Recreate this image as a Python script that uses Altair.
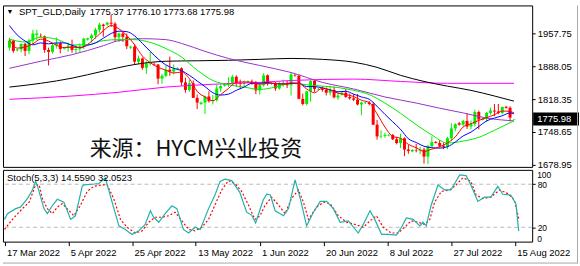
import altair as alt
import pandas as pd

# ---------------- data ----------------
bar_idx = list(range(130))
opens = [1928, 1943, 1922, 1924, 1936, 1921, 1943, 1955, 1953, 1952,
         1923, 1919, 1933, 1937, 1926, 1928, 1932, 1923, 1925, 1931,
         1945, 1948, 1954, 1966, 1977, 1977, 1981, 1979, 1950, 1958,
         1951, 1928, 1930, 1898, 1905, 1885, 1894, 1893, 1892, 1862,
         1868, 1881, 1877, 1882, 1884, 1854, 1838, 1852, 1821, 1808,
         1811, 1824, 1814, 1816, 1841, 1847, 1850, 1853, 1866, 1853,
         1851, 1854, 1856, 1855, 1837, 1848, 1869, 1851, 1852, 1841,
         1852, 1853, 1848, 1869, 1868, 1819, 1808, 1835, 1857, 1839,
         1840, 1838, 1832, 1838, 1822, 1828, 1832, 1823, 1820, 1817,
         1807, 1810, 1811, 1808, 1764, 1739, 1740, 1741, 1742, 1733,
         1725, 1735, 1711, 1707, 1710, 1709, 1711, 1696, 1718, 1727,
         1725, 1719, 1717, 1735, 1756, 1767, 1764, 1772, 1760, 1765,
         1791, 1774, 1777, 1789, 1794, 1792, 1789, 1802, 1800, 1775.37]
highs = [1949, 1945, 1926, 1937, 1938, 1947, 1966, 1966, 1958, 1954,
         1928, 1939, 1950, 1941, 1930, 1939, 1945, 1933, 1937, 1949,
         1949, 1958, 1970, 1981, 1979, 1983, 1998, 1982, 1960, 1962,
         1958, 1932, 1936, 1911, 1907, 1899, 1920, 1896, 1893, 1872,
         1889, 1909, 1892, 1886, 1886, 1864, 1859, 1858, 1828, 1813,
         1826, 1835, 1827, 1849, 1849, 1852, 1865, 1870, 1869, 1860,
         1858, 1858, 1860, 1857, 1854, 1874, 1871, 1854, 1855, 1855,
         1860, 1857, 1875, 1872, 1870, 1830, 1836, 1858, 1859, 1842,
         1846, 1843, 1847, 1845, 1833, 1834, 1840, 1830, 1829, 1829,
         1813, 1813, 1814, 1812, 1774, 1752, 1747, 1744, 1744, 1738,
         1745, 1737, 1721, 1712, 1723, 1717, 1715, 1721, 1739, 1729,
         1731, 1726, 1738, 1767, 1767, 1770, 1774, 1788, 1773, 1796,
         1794, 1778, 1791, 1800, 1808, 1808, 1802, 1804, 1803, 1776.10]
lows = [1922, 1917, 1920, 1918, 1910, 1914, 1935, 1944, 1950, 1917,
        1890, 1915, 1926, 1916, 1924, 1919, 1917, 1915, 1919, 1925,
        1943, 1939, 1947, 1960, 1951, 1975, 1972, 1941, 1940, 1940,
        1925, 1925, 1891, 1893, 1881, 1872, 1890, 1890, 1850, 1851,
        1865, 1868, 1871, 1880, 1847, 1832, 1834, 1821, 1797, 1806,
        1787, 1811, 1807, 1813, 1834, 1845, 1844, 1850, 1845, 1840,
        1845, 1853, 1849, 1829, 1828, 1845, 1847, 1849, 1836, 1838,
        1845, 1842, 1826, 1866, 1818, 1805, 1805, 1813, 1834, 1837,
        1834, 1826, 1826, 1820, 1817, 1826, 1821, 1817, 1814, 1805,
        1784, 1808, 1805, 1763, 1732, 1735, 1736, 1739, 1731, 1722,
        1714, 1697, 1702, 1705, 1705, 1701, 1681, 1680, 1716, 1724,
        1715, 1712, 1712, 1729, 1750, 1762, 1760, 1755, 1754, 1760,
        1754, 1773, 1770, 1785, 1782, 1786, 1786, 1798, 1771, 1773.68]
closes = [1943, 1921, 1924, 1936, 1921, 1943, 1958, 1958, 1952, 1923,
          1919, 1933, 1937, 1925, 1928, 1932, 1923, 1925, 1931, 1947,
          1948, 1954, 1966, 1977, 1974, 1981, 1979, 1950, 1958, 1951,
          1931, 1930, 1898, 1905, 1885, 1894, 1896, 1892, 1862, 1868,
          1881, 1877, 1883, 1884, 1854, 1838, 1852, 1821, 1811, 1811,
          1824, 1814, 1816, 1841, 1846, 1850, 1853, 1866, 1853, 1851,
          1853, 1856, 1855, 1837, 1848, 1869, 1851, 1852, 1841, 1852,
          1853, 1848, 1871, 1868, 1819, 1808, 1835, 1857, 1840, 1840,
          1838, 1832, 1838, 1822, 1826, 1832, 1823, 1820, 1817, 1807,
          1811, 1811, 1808, 1764, 1739, 1740, 1742, 1742, 1733, 1725,
          1735, 1711, 1708, 1710, 1709, 1711, 1696, 1718, 1727, 1725,
          1719, 1717, 1735, 1756, 1765, 1764, 1772, 1760, 1765, 1791,
          1775, 1777, 1789, 1794, 1792, 1789, 1802, 1800, 1779, 1775.98]

# moving averages
ma_fast_idx = list(range(0, 130, 2)) + [129]
ma_red = [1945, 1927, 1929, 1936, 1946, 1942, 1933, 1928, 1929, 1928,
          1935, 1949, 1964, 1975, 1968, 1954, 1934, 1910, 1896, 1886,
          1880, 1874, 1876, 1862, 1835, 1823, 1815, 1828, 1841, 1854,
          1855, 1854, 1850, 1852, 1852, 1850, 1853, 1852, 1840, 1832,
          1842, 1838, 1831, 1828, 1824, 1816, 1811, 1787, 1759, 1739,
          1735, 1722, 1715, 1707, 1712, 1717, 1725, 1738, 1759, 1766,
          1773, 1779, 1785, 1793, 1792, 1789]
ma_blue = [1975, 1955, 1942, 1934, 1938, 1936, 1938, 1938, 1933, 1928,
           1933, 1938, 1948, 1958, 1963, 1962, 1953, 1937, 1920, 1904,
           1891, 1884, 1879, 1869, 1857, 1845, 1832, 1827, 1829, 1837,
           1844, 1852, 1852, 1854, 1851, 1851, 1852, 1852, 1845, 1845,
           1842, 1838, 1834, 1835, 1829, 1823, 1818, 1803, 1786, 1770,
           1754, 1734, 1726, 1718, 1715, 1714, 1717, 1727, 1740, 1748,
           1760, 1772, 1778, 1783, 1789, 1787]
ma_green_idx = list(range(0, 130, 4)) + [129]
ma_green = [1946, 1940, 1950, 1946, 1934, 1934, 1943, 1945, 1945, 1939,
            1926, 1908, 1880, 1858, 1849, 1844, 1839, 1844, 1852, 1849,
            1846, 1843, 1837, 1828, 1810, 1788, 1764, 1742, 1725, 1729,
            1737, 1752, 1768, 1772]
ma_purple_idx = [0, 8, 16, 24, 28, 34, 40, 44, 50, 56, 64, 72, 80, 88, 96,
                 104, 110, 116, 122, 129]
ma_purple = [1884, 1899, 1913, 1932, 1943, 1947, 1945, 1937, 1920, 1905,
             1890, 1875, 1854, 1840, 1823, 1810, 1799, 1789, 1778, 1772]
ma_black_idx = [0, 8, 16, 24, 32, 40, 48, 56, 64, 72, 80, 88, 94, 100, 106,
                112, 118, 124, 129]
ma_black = [1844, 1852, 1863, 1878, 1892, 1899, 1900, 1901, 1903, 1905,
            1903, 1897, 1886, 1869, 1856, 1846, 1837, 1825, 1814]
ma_mag_idx = [0, 16, 28, 40, 52, 64, 72, 88, 100, 112, 129]
ma_mag = [1818, 1825, 1833, 1844, 1850, 1854, 1858, 1861, 1856, 1852, 1852]

# stochastic (5,3,3)
k_idx = [0, 0.75, 2.8, 4, 5.75, 7, 7.8, 8.2, 9.9, 10.75, 12, 13.25, 14.9, 16.6,
         17.8, 19.5, 19.9, 22, 23.7, 25.3, 27, 28.7, 30.3, 32, 33.7, 35.3, 36.6,
         37.4, 38.7, 40.3, 42, 43.25, 44.9, 46.2, 47.8, 49.1, 51.2, 52.8, 54.1,
         55.3, 57, 59, 60.75, 62, 63, 64.9, 65.8, 66.7, 67.9, 70, 71.25, 72.9,
         74.2, 75.8, 77.5, 79.2, 80.8, 82.5, 84.2, 86.25, 88.75, 90, 91.7, 92.9,
         94.6, 96.25, 98.3, 99.6, 100.8, 102.5, 104.2, 105, 105.8, 107, 108.75,
         110.4, 112, 114.2, 115.8, 117, 118.75, 120.4, 122, 123.75, 125, 127,
         128.3, 129]
k_val = [31, 39, 46, 48, 60, 72, 84, 79, 46, 39, 50, 59, 55, 31, 36, 77, 79,
         80, 81, 89, 55, 22, 17, 10, 15, 24, 43, 34, 27, 39, 50, 46, 17, 12, 20,
         17, 46, 65, 84, 87, 85, 69, 41, 37, 26, 58, 66, 65, 43, 36, 46, 86, 60,
         22, 41, 56, 56, 46, 27, 29, 12, 24, 43, 31, 10, 10, 9, 20, 33, 31, 22,
         27, 22, 50, 79, 72, 72, 93, 92, 79, 56, 62, 62, 77, 66, 65, 53, 14.559]
d_idx = [0, 2, 4.5, 6.2, 7.8, 8.7, 9.5, 10.75, 12, 13.25, 14.5, 16.2, 17.4,
         19.1, 20.75, 22.4, 24.5, 25.75, 27.4, 29.1, 30.75, 32.8, 34.5, 36.2,
         37.8, 39.5, 41.2, 42.8, 44.5, 46.2, 47.8, 49.5, 51.2, 52.8, 54.5, 56.2,
         57.8, 59.5, 61.2, 62.8, 64.1, 65.3, 67, 68.75, 70.4, 72, 73.75, 75,
         76.25, 78.3, 80, 81.7, 83.75, 85.8, 87.9, 90, 91.7, 93.3, 95, 97, 98.75,
         100.4, 102, 103.75, 105.4, 106.7, 107.9, 109.6, 111.7, 113.3, 115, 117,
         118.3, 120, 122, 124.2, 126.25, 127.9, 129]
d_val = [17, 31, 46, 55, 79, 79, 60, 46, 39, 48, 53, 43, 36, 51, 70, 77, 79,
         79, 60, 31, 20, 12, 15, 27, 34, 34, 36, 41, 29, 17, 15, 20, 31, 51, 72,
         85, 81, 70, 51, 31, 36, 50, 62, 51, 39, 60, 72, 55, 31, 48, 55, 53, 36,
         27, 24, 20, 29, 36, 20, 12, 12, 20, 29, 27, 24, 31, 55, 70, 72, 79, 89,
         84, 65, 60, 62, 72, 67, 58, 32.0523]

price_ticks = [1957.75, 1888.05, 1818.35, 1748.65, 1678.95]
date_idx = [0, 16, 32, 48, 64, 80, 96, 112, 128]
date_labels = ["17 Mar 2022", "5 Apr 2022", "25 Apr 2022", "13 May 2022",
               "1 Jun 2022", "20 Jun 2022", "8 Jul 2022", "27 Jul 2022",
               "15 Aug 2022"]
stoch_levels = [20, 80]
stoch_end_labels = ["100", "0"]

# ---------------- chart ----------------
FONT = "Liberation Sans, Arial, sans-serif"
FS = 9.5
FS_ST = 8.5
UP, DOWN = "#00EE00", "#FF0000"

df = pd.DataFrame({"i": bar_idx, "o": opens, "h": highs, "l": lows, "c": closes})
df["dir"] = ["up" if c >= o else "down" for o, c in zip(opens, closes)]

xs = alt.Scale(domain=[-0.375, 132.375], nice=False, zero=False)
ys = alt.Scale(domain=[1674.1, 2017.8], nice=False, zero=False)
col = alt.Color("dir:N", scale=alt.Scale(domain=["up", "down"], range=[UP, DOWN]),
                legend=None)

price_axis = alt.Axis(orient="right", values=price_ticks, format=".2f",
                      labelFont=FONT, labelFontSize=FS, labelColor="black",
                      tickColor="black", tickSize=3, domain=False, grid=False,
                      labelPadding=2, labelOverlap=False, title=None)

wicks = alt.Chart(df).mark_rule(strokeWidth=1).encode(
    x=alt.X("i:Q", scale=xs, axis=None),
    y=alt.Y("l:Q", scale=ys, axis=price_axis),
    y2="h:Q", color=col)
bodies = alt.Chart(df).mark_bar(size=3, strokeWidth=0).encode(
    x=alt.X("i:Q", scale=xs, axis=None),
    y=alt.Y("o:Q", scale=ys), y2="c:Q", color=col)


def ma_line(idx, vals, color, width=1):
    d = pd.DataFrame({"i": idx, "v": vals})
    return alt.Chart(d).mark_line(color=color, strokeWidth=width, interpolate="monotone").encode(
        x=alt.X("i:Q", scale=xs, axis=None), y=alt.Y("v:Q", scale=ys))


lines = [
    ma_line(ma_mag_idx, ma_mag, "#FF00FF"),
    ma_line(ma_black_idx, ma_black, "#000000"),
    ma_line(ma_purple_idx, ma_purple, "#9932CC"),
    ma_line(ma_green_idx, ma_green, "#00EE00"),
    ma_line(ma_fast_idx, ma_blue, "#0000FF"),
    ma_line(ma_fast_idx, ma_red, "#FF0000"),
]

last = pd.DataFrame({"c": [closes[-1]], "t": [f"{closes[-1]:.2f}"]})
tag_box = alt.Chart(last).mark_point(
    shape="M-1,-0.28L1,-0.28L1,0.28L-1,0.28Z", filled=True, color="black",
    size=46 * 46, opacity=1, strokeWidth=0).encode(
    x=alt.value(555), y=alt.Y("c:Q", scale=ys))
tag_txt = alt.Chart(last).mark_text(
    align="left", baseline="middle", font=FONT, fontSize=FS, color="white").encode(
    x=alt.value(536), y=alt.Y("c:Q", scale=ys), text="t:N")

title_df = pd.DataFrame({"a": ["\u25BC"], "b": ["SPT_GLD,Daily"],
                         "n": ["1775.37 1776.10 1773.68 1775.98"],
                         "w": ["来源：HYCM兴业投资"]})
tri = alt.Chart(title_df).mark_text(align="center", baseline="middle", fontSize=7,
                                    color="black").encode(
    x=alt.value(7), y=alt.value(7), text="a:N")
ttl = alt.Chart(title_df).mark_text(align="left", baseline="middle", font=FONT,
                                    fontSize=FS, color="black").encode(
    x=alt.value(16), y=alt.value(7), text="b:N")
nums = alt.Chart(title_df).mark_text(align="left", baseline="middle", font=FONT,
                                     fontSize=FS, color="black").encode(
    x=alt.value(87), y=alt.value(7), text="n:N")
wm = alt.Chart(title_df).mark_text(align="left", baseline="middle",
                                   font="Noto Sans CJK SC", fontSize=22,
                                   color="#111111").encode(
    x=alt.value(87), y=alt.value(144), text="w:N")

# outer window frame (light grey), relative to the main panel origin
frame_v = alt.Chart(title_df).mark_rule(color="#A8A8A8", strokeWidth=1).encode(
    x=alt.value(576.5), y=alt.value(0), y2=alt.value(259))
frame_h = alt.Chart(title_df).mark_rule(color="#A8A8A8", strokeWidth=1).encode(
    x=alt.value(0), x2=alt.value(576.5), y=alt.value(258.5))

main = alt.layer(wicks, bodies, *lines, tag_box, tag_txt, tri, ttl, nums, wm,
                 frame_v, frame_h).properties(width=531, height=162)

# stochastic panel
sx_axis = alt.Axis(
    values=date_idx,
    labelExpr="[" + ",".join(f"'{s}'" for s in date_labels) + "][indexof(["
              + ",".join(str(v) for v in date_idx) + "], datum.value)]",
    labelAlign="left", labelFont=FONT, labelFontSize=FS, labelColor="black",
    tickColor="black", tickSize=4, domain=False, grid=False, labelPadding=2,
    labelOffset=2, labelOverlap=False, labelFlush=False, title=None)
sy = alt.Scale(domain=[0, 100], nice=False, zero=False)
sy_axis = alt.Axis(orient="right", values=stoch_levels, labelOverlap=False,
                   labelFont=FONT, labelFontSize=FS_ST, labelColor="black",
                   tickColor="black", tickSize=3, domain=False, grid=False,
                   labelPadding=2, title=None)

lev = alt.Chart(pd.DataFrame({"v": stoch_levels})).mark_rule(
    color="#BBBBBB", strokeDash=[4, 3], strokeWidth=1).encode(
    y=alt.Y("v:Q", scale=sy, axis=sy_axis))
kline = alt.Chart(pd.DataFrame({"i": k_idx, "v": k_val})).mark_line(
    color="#20B2AA", strokeWidth=1.2).encode(
    x=alt.X("i:Q", scale=xs, axis=sx_axis), y=alt.Y("v:Q", scale=sy, axis=sy_axis))
dline = alt.Chart(pd.DataFrame({"i": d_idx, "v": d_val})).mark_line(
    color="#FF0000", strokeWidth=1.2, strokeDash=[2, 2]).encode(
    x=alt.X("i:Q", scale=xs, axis=sx_axis), y=alt.Y("v:Q", scale=sy, axis=sy_axis))
stxt = alt.Chart(pd.DataFrame({"t": ["Stoch(5,3,3) 14.5590 32.0523"]})).mark_text(
    align="left", baseline="middle", font=FONT, fontSize=FS, color="black").encode(
    x=alt.value(4), y=alt.value(8), text="t:N")
end_lbl_df = pd.DataFrame({"t": stoch_end_labels})
end_top = alt.Chart(end_lbl_df).transform_filter("datum.t == '100'").mark_text(
    align="left", baseline="middle", font=FONT, fontSize=FS_ST, color="black").encode(
    x=alt.value(536), y=alt.value(5), text="t:N")
end_bot = alt.Chart(end_lbl_df).transform_filter("datum.t == '0'").mark_text(
    align="left", baseline="middle", font=FONT, fontSize=FS_ST, color="black").encode(
    x=alt.value(536), y=alt.value(69), text="t:N")

stoch = alt.layer(lev, dline, kline, stxt, end_top, end_bot).properties(
    width=531, height=72)

chart = alt.vconcat(main, stoch, spacing=3, bounds="flush").properties(
    padding={"left": 1, "top": 4, "right": 0, "bottom": 0},
    background="white",
).configure_view(stroke="black", strokeWidth=1)

chart.save("out.html", embed_options={"renderer": "svg", "actions": False})
